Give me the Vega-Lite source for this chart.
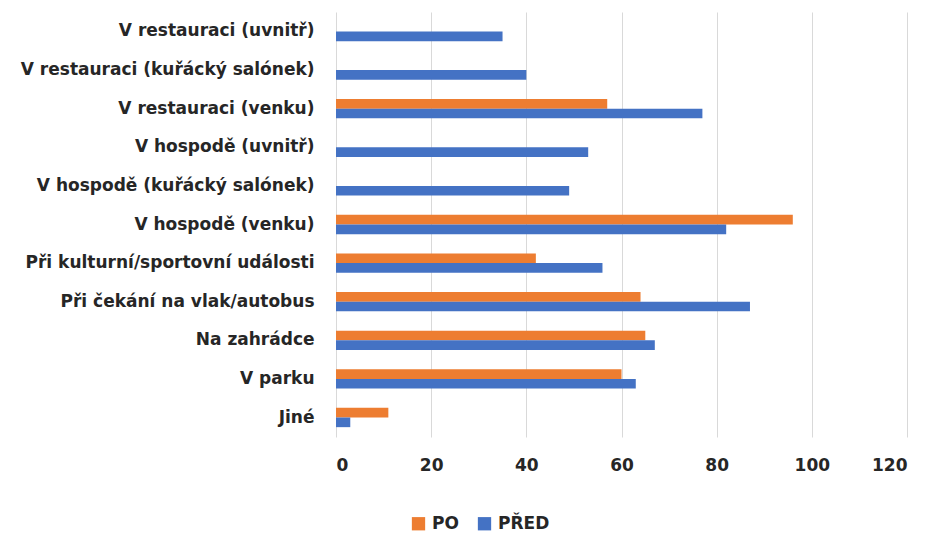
{
  "$schema": "https://vega.github.io/schema/vega-lite/v6.json",
  "width": 571,
  "height": 425,
  "autosize": {"type": "none"},
  "padding": {"left": 336, "top": 12, "right": 22, "bottom": 97},
  "background": "white",
  "config": {
    "view": {"stroke": null},
    "font": "DejaVu Sans"
  },
  "data": {
    "values": [
      {"misto": "V restauraci (uvnitř)", "obdobi": "PŘED", "hodnota": 35},
      {"misto": "V restauraci (kuřácký salónek)", "obdobi": "PŘED", "hodnota": 40},
      {"misto": "V restauraci (venku)", "obdobi": "PO", "hodnota": 57},
      {"misto": "V restauraci (venku)", "obdobi": "PŘED", "hodnota": 77},
      {"misto": "V hospodě (uvnitř)", "obdobi": "PŘED", "hodnota": 53},
      {"misto": "V hospodě (kuřácký salónek)", "obdobi": "PŘED", "hodnota": 49},
      {"misto": "V hospodě (venku)", "obdobi": "PO", "hodnota": 96},
      {"misto": "V hospodě (venku)", "obdobi": "PŘED", "hodnota": 82},
      {"misto": "Při kulturní/sportovní události", "obdobi": "PO", "hodnota": 42},
      {"misto": "Při kulturní/sportovní události", "obdobi": "PŘED", "hodnota": 56},
      {"misto": "Při čekání na vlak/autobus", "obdobi": "PO", "hodnota": 64},
      {"misto": "Při čekání na vlak/autobus", "obdobi": "PŘED", "hodnota": 87},
      {"misto": "Na zahrádce", "obdobi": "PO", "hodnota": 65},
      {"misto": "Na zahrádce", "obdobi": "PŘED", "hodnota": 67},
      {"misto": "V parku", "obdobi": "PO", "hodnota": 60},
      {"misto": "V parku", "obdobi": "PŘED", "hodnota": 63},
      {"misto": "Jiné", "obdobi": "PO", "hodnota": 11},
      {"misto": "Jiné", "obdobi": "PŘED", "hodnota": 3}
    ]
  },
  "mark": {"type": "bar"},
  "encoding": {
    "y": {
      "field": "misto",
      "type": "nominal",
      "sort": ["V restauraci (uvnitř)", "V restauraci (kuřácký salónek)", "V restauraci (venku)", "V hospodě (uvnitř)", "V hospodě (kuřácký salónek)", "V hospodě (venku)", "Při kulturní/sportovní události", "Při čekání na vlak/autobus", "Na zahrádce", "V parku", "Jiné"],
      "scale": {"paddingInner": 0.5, "paddingOuter": 0.255},
      "axis": {
        "title": null,
        "domain": false,
        "ticks": false,
        "labelPadding": 22,
        "labelFontSize": 17,
        "labelFontWeight": "bold",
        "labelColor": "#262626",
        "labelLimit": 0
      }
    },
    "yOffset": {
      "field": "obdobi",
      "type": "nominal",
      "scale": {"domain": ["PO", "PŘED"]}
    },
    "x": {
      "field": "hodnota",
      "type": "quantitative",
      "scale": {"domain": [0, 120], "nice": false},
      "axis": {
        "title": null,
        "values": [0, 20, 40, 60, 80, 100, 120],
        "grid": true,
        "gridColor": "#d9d9d9",
        "gridWidth": 1,
        "domain": false,
        "ticks": false,
        "labelPadding": 20,
        "labelFontSize": 17,
        "labelFontWeight": "bold",
        "labelColor": "#262626"
      }
    },
    "color": {
      "field": "obdobi",
      "type": "nominal",
      "scale": {"domain": ["PO", "PŘED"], "range": ["#ED7D31", "#4472C4"]},
      "legend": {
        "title": null,
        "orient": "none",
        "direction": "horizontal",
        "legendX": 74,
        "legendY": 503,
        "symbolType": "square",
        "symbolSize": 177,
        "symbolStrokeWidth": 0,
        "labelFontSize": 17,
        "labelFontWeight": "bold",
        "labelColor": "#262626",
        "columnPadding": 17,
        "labelOffset": 5
      }
    }
  }
}
